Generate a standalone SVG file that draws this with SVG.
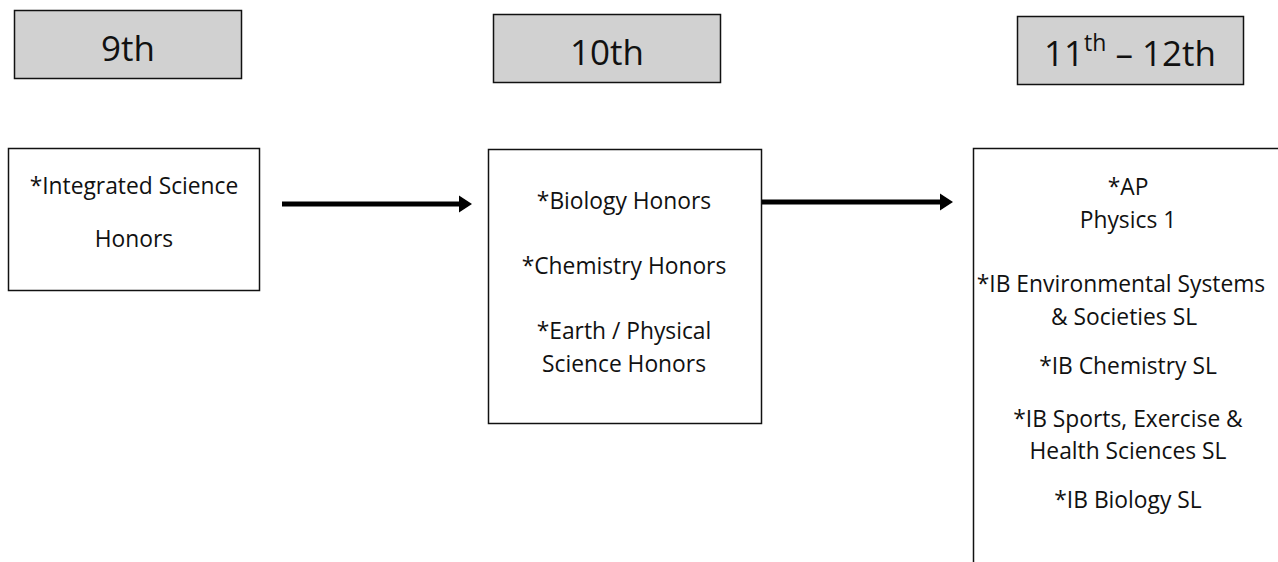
<svg xmlns="http://www.w3.org/2000/svg" width="1278" height="562" viewBox="0 0 1278 562">
<defs>
<style>
.hdr{fill:#d1d1d1;stroke:#111;stroke-width:1.5}
.box{fill:#fff;stroke:#111;stroke-width:1.5}
.ht{font-family:"Open Sans","Liberation Sans",sans-serif;font-size:35px;fill:#111;text-anchor:middle}
.t{font-family:"Open Sans","Liberation Sans",sans-serif;font-size:22.8px;fill:#111;text-anchor:middle}
.conn{stroke:#000;stroke-width:5;fill:none}
</style>
<marker id="ah" markerWidth="4" markerHeight="4" refX="1" refY="2" orient="auto" markerUnits="strokeWidth">
<path d="M0,0.3 L2.6,2 L0,3.7 Z" fill="#000"/>
</marker>
</defs>
<rect width="1278" height="562" fill="#fff"/>
<g id="h9"><rect class="hdr" x="14.5" y="10.5" width="227" height="68"/><text class="ht" x="128" y="61">9th</text></g>
<g id="h10"><rect class="hdr" x="493.5" y="14.5" width="227" height="68"/><text class="ht" x="607" y="65">10th</text></g>
<g id="h11"><rect class="hdr" x="1017.5" y="16.5" width="226" height="68"/><text class="ht" x="1130" y="66">11<tspan font-size="23" dy="-15">th</tspan><tspan dy="15"> – 12th</tspan></text></g>
<g id="n9"><rect class="box" x="8.5" y="148.5" width="251" height="142"/>
<text class="t" x="134" y="194">*Integrated Science</text>
<text class="t" x="134" y="247">Honors</text></g>
<g id="n10"><rect class="box" x="488.5" y="149.5" width="273" height="274"/>
<text class="t" x="624" y="209">*Biology Honors</text>
<text class="t" x="624" y="274">*Chemistry Honors</text>
<text class="t" x="624" y="339">*Earth / Physical</text>
<text class="t" x="624" y="372">Science Honors</text></g>
<g id="n11"><path class="box" d="M1278,148.5 H973.5 V562"/>
<text class="t" x="1128" y="195">*AP</text>
<text class="t" x="1128" y="228">Physics 1</text>
<text class="t" x="1121" y="292">*IB Environmental Systems</text>
<text class="t" x="1124" y="325">&amp; Societies SL</text>
<text class="t" x="1128" y="374">*IB Chemistry SL</text>
<text class="t" x="1128" y="427">*IB Sports, Exercise &amp;</text>
<text class="t" x="1128" y="459">Health Sciences SL</text>
<text class="t" x="1128" y="508">*IB Biology SL</text></g>
<g id="connectors">
<line class="conn" x1="282" y1="204" x2="464" y2="204" marker-end="url(#ah)"/>
<line class="conn" x1="762" y1="202" x2="945" y2="202" marker-end="url(#ah)"/>
</g>
</svg>
